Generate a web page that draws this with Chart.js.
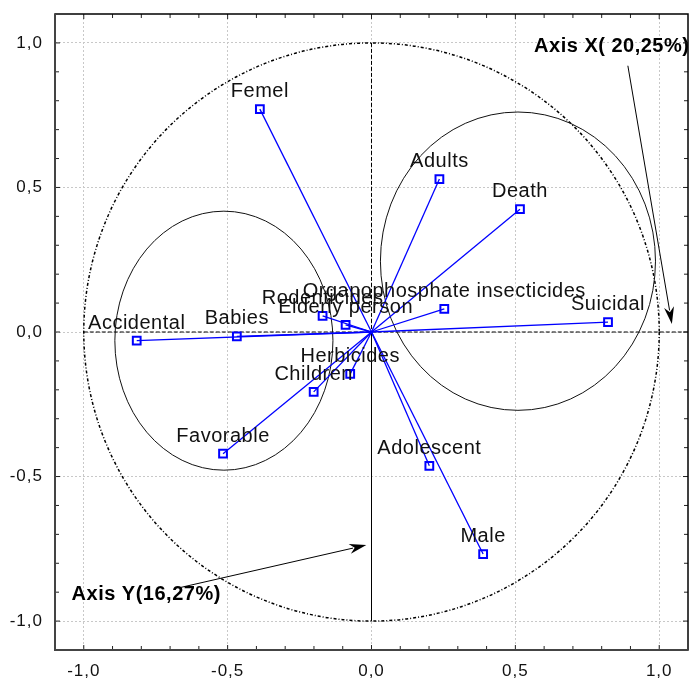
<!DOCTYPE html>
<html>
<head>
<meta charset="utf-8">
<script src="https://cdn.jsdelivr.net/npm/chart.js@4.4.1/dist/chart.umd.min.js"></script>
<style>
  body { margin: 0; background: #fff; }
  canvas { display: block; }
</style>
</head>
<body>
<canvas id="pcaCircle" width="690" height="682"></canvas>
<script>
// variables projected on the factor plane
const varNames = ['Femel', 'Adults', 'Death', 'Organophosphate insecticides', 'Suicidal',
    'Rodenticides', 'Elderly person', 'Accidental', 'Babies', 'Herbicides',
    'Children', 'Favorable', 'Adolescent', 'Male'];
const factorX = [-0.388, 0.236, 0.516, 0.253, 0.822, -0.170, -0.090, -0.816, -0.468, -0.074, -0.201, -0.516, 0.201, 0.388];
const factorY = [0.771, 0.529, 0.425, 0.080, 0.034, 0.056, 0.025, -0.030, -0.015, -0.145, -0.207, -0.421, -0.463, -0.768];

const tickValues = [-1, -0.5, 0, 0.5, 1];
const axisMin = -1.1;
const axisMax = 1.1;

// groups drawn as ellipses: [cx, cy, rx, ry]
const leftGroup = [-0.513, -0.030, 0.379, 0.448];
const rightGroup = [0.509, 0.245, 0.478, 0.516];

// axis notes
const noteX = { text: 'Axis X( 20,25%)', at: [0.835, 0.989], from: [0.891, 0.921], to: [1.044, 0.028] };
const noteY = { text: 'Axis Y(16,27%)', at: [-0.783, -0.908], from: [-0.665, -0.884], to: [-0.018, -0.737] };

const points = varNames.map((n, i) => ({ x: factorX[i], y: factorY[i] }));

// one line from the origin to every variable
const spokeSets = points.map(p => ({
    data: [{ x: 0, y: 0 }, p],
    showLine: true,
    borderColor: '#0000ff',
    borderWidth: 1.3,
    pointRadius: 0
}));

const fmt = v => v.toFixed(1).replace('.', ',');

function arrow(ctx, x1, y1, x2, y2) {
    const a = Math.atan2(y2 - y1, x2 - x1);
    const len = 17, half = 5;
    ctx.beginPath();
    ctx.moveTo(x1, y1);
    ctx.lineTo(x2 - Math.cos(a) * len * 0.8, y2 - Math.sin(a) * len * 0.8);
    ctx.stroke();
    ctx.beginPath();
    ctx.moveTo(x2, y2);
    ctx.lineTo(x2 - Math.cos(a) * len - Math.sin(a) * half, y2 - Math.sin(a) * len + Math.cos(a) * half);
    ctx.lineTo(x2 - Math.cos(a) * len * 0.7, y2 - Math.sin(a) * len * 0.7);
    ctx.lineTo(x2 - Math.cos(a) * len + Math.sin(a) * half, y2 - Math.sin(a) * len - Math.cos(a) * half);
    ctx.closePath();
    ctx.fill();
}

const decor = {
    id: 'decor',
    beforeDraw(chart) {
        chart.ctx.letterSpacing = '1px';
    },
    beforeDatasetsDraw(chart) {
        const { ctx, scales: { x, y } } = chart;
        const sx = x.getPixelForValue(1) - x.getPixelForValue(0);
        const sy = y.getPixelForValue(0) - y.getPixelForValue(1);
        const ox = x.getPixelForValue(0), oy = y.getPixelForValue(0);
        ctx.save();
        ctx.strokeStyle = '#000';

        // unit circle
        ctx.lineWidth = 1.5;
        ctx.setLineDash([3, 2, 1, 2]);
        ctx.beginPath();
        ctx.ellipse(ox, oy, sx, sy, 0, 0, Math.PI * 2);
        ctx.stroke();

        // axes through origin
        ctx.lineWidth = 1;
        ctx.setLineDash([4, 2]);
        ctx.beginPath();
        ctx.moveTo(x.getPixelForValue(-1), oy);
        ctx.lineTo(x.getPixelForValue(axisMax), oy);
        ctx.moveTo(ox, y.getPixelForValue(1));
        ctx.lineTo(ox, oy);
        ctx.stroke();
        ctx.setLineDash([]);
        ctx.beginPath();
        ctx.moveTo(ox, oy);
        ctx.lineTo(ox, y.getPixelForValue(-1));
        ctx.stroke();

        // group ellipses
        ctx.strokeStyle = '#111';
        [leftGroup, rightGroup].forEach(g => {
            ctx.beginPath();
            ctx.ellipse(x.getPixelForValue(g[0]), y.getPixelForValue(g[1]), g[2] * sx, g[3] * sy, 0, 0, Math.PI * 2);
            ctx.stroke();
        });
        ctx.restore();
    },
    afterDatasetsDraw(chart) {
        const { ctx, scales: { x, y } } = chart;
        ctx.save();
        ctx.letterSpacing = '0.5px';
        ctx.fillStyle = '#111';
        ctx.font = '20px "Liberation Sans", Arial, sans-serif';
        ctx.textAlign = 'center';
        ctx.textBaseline = 'alphabetic';
        chart.getDatasetMeta(spokeSets.length).data.forEach((el, i) => {
            ctx.fillText(varNames[i], el.x, el.y - 12);
        });

        ctx.font = 'bold 20px "Liberation Sans", Arial, sans-serif';
        ctx.textBaseline = 'middle';
        ctx.strokeStyle = '#000';
        ctx.fillStyle = '#000';
        ctx.lineWidth = 1;
        [noteX, noteY].forEach(n => {
            ctx.fillText(n.text, x.getPixelForValue(n.at[0]), y.getPixelForValue(n.at[1]));
            arrow(ctx, x.getPixelForValue(n.from[0]), y.getPixelForValue(n.from[1]),
                x.getPixelForValue(n.to[0]), y.getPixelForValue(n.to[1]));
        });
        ctx.restore();
    },
    afterDraw(chart) {
        const { ctx, chartArea: a, scales: { x, y } } = chart;
        ctx.save();
        ctx.strokeStyle = '#222';
        ctx.lineWidth = 1;
        ctx.beginPath();
        for (let k = -10; k <= 10; k++) {
            const v = k / 10;
            const len = k % 5 === 0 ? 5 : 4;
            const px = x.getPixelForValue(v), py = y.getPixelForValue(v);
            ctx.moveTo(px, a.bottom); ctx.lineTo(px, a.bottom - len);
            ctx.moveTo(px, a.top); ctx.lineTo(px, a.top + len);
            ctx.moveTo(a.left, py); ctx.lineTo(a.left + len, py);
            ctx.moveTo(a.right, py); ctx.lineTo(a.right - len, py);
        }
        ctx.stroke();
        ctx.strokeStyle = '#000';
        ctx.lineWidth = 1.5;
        ctx.strokeRect(a.left, a.top, a.right - a.left, a.bottom - a.top);
        ctx.strokeStyle = '#444';
        ctx.lineWidth = 2;
        ctx.beginPath();
        ctx.moveTo(a.left, a.top);
        ctx.lineTo(a.left, a.bottom);
        ctx.lineTo(a.right, a.bottom);
        ctx.stroke();
        ctx.restore();
    }
};

const axisCommon = {
    type: 'linear',
    min: axisMin,
    max: axisMax,
    afterBuildTicks: s => { s.ticks = tickValues.map(v => ({ value: v })); },
    grid: { color: '#c8c8c8', lineWidth: 1, drawTicks: false },
    border: { display: false, dash: [2, 2] },
    ticks: {
        color: '#111',
        font: { family: '"Liberation Sans", Arial, sans-serif', size: 17 },
        callback: v => fmt(v)
    }
};

new Chart(document.getElementById('pcaCircle'), {
    type: 'scatter',
    data: {
        datasets: spokeSets.concat([{
            data: points,
            pointStyle: 'rect',
            pointRadius: 5.5,
            pointBorderWidth: 2,
            pointBorderColor: '#0000ff',
            pointBackgroundColor: '#ffffff',
            showLine: false
        }])
    },
    options: {
        responsive: false,
        animation: false,
        layout: { autoPadding: false, padding: { top: 14, right: 2, left: 0, bottom: 0 } },
        plugins: { legend: { display: false }, tooltip: { enabled: false } },
        scales: {
            x: Object.assign({}, axisCommon, {
                afterFit: s => { s.height = 32; s.paddingLeft = 0; s.paddingRight = 0; },
                ticks: Object.assign({}, axisCommon.ticks, { padding: 11, maxRotation: 0 })
            }),
            y: Object.assign({}, axisCommon, {
                afterFit: s => { s.width = 55; s.paddingTop = 0; s.paddingBottom = 0; },
                ticks: Object.assign({}, axisCommon.ticks, { padding: 12 })
            })
        }
    },
    plugins: [decor]
});
</script>
</body>
</html>
